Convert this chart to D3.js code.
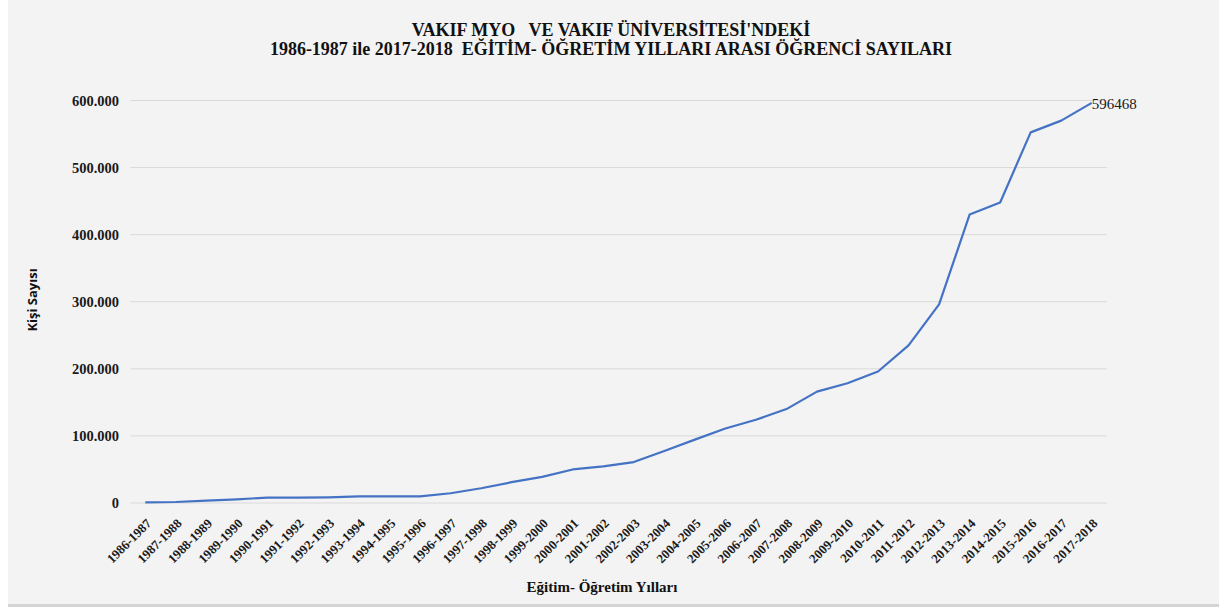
<!DOCTYPE html>
<html><head><meta charset="utf-8">
<script src="https://cdn.jsdelivr.net/npm/d3@7"></script>
<style>
html,body{margin:0;padding:0;background:#fff;}
svg{display:block;}
</style></head>
<body>
<script>
const categories = ["1986-1987","1987-1988","1988-1989","1989-1990","1990-1991","1991-1992","1992-1993","1993-1994","1994-1995","1995-1996","1996-1997","1997-1998","1998-1999","1999-2000","2000-2001","2001-2002","2002-2003","2003-2004","2004-2005","2005-2006","2006-2007","2007-2008","2008-2009","2009-2010","2010-2011","2011-2012","2012-2013","2013-2014","2014-2015","2015-2016","2016-2017","2017-2018"];
const students = [1000,1500,3500,5500,8000,8000,8500,9800,10000,10000,14500,22000,31000,39000,50000,54500,61000,77500,94500,111000,124000,140000,166000,178500,196000,235000,296000,430000,448000,552500,570000,596468];
const yTicks = [0,100000,200000,300000,400000,500000,600000];
const titleLines = ["VAKIF MYO   VE VAKIF ÜNİVERSİTESİ'NDEKİ","1986-1987 ile 2017-2018  EĞİTİM- ÖĞRETİM YILLARI ARASI ÖĞRENCİ SAYILARI"];
const yTitle = "Kişi Sayısı";
const xTitle = "Eğitim- Öğretim Yılları";
const lastLabel = "596468";

const W = 1219, H = 610;
const svg = d3.select("body").append("svg").attr("width", W).attr("height", H);
svg.append("rect").attr("width", W).attr("height", H).attr("fill", "#ffffff");
svg.append("rect").attr("x", 8).attr("y", 0).attr("width", W - 8).attr("height", 604).attr("fill", "#f3f3f3");
svg.append("rect").attr("x", 8).attr("y", 604).attr("width", W - 8).attr("height", 3).attr("fill", "#d4d4d4");

const m = {left: 130, right: 1107, top: 100.5, bottom: 503};
const x = d3.scalePoint().domain(categories).range([m.left, m.right]).padding(0.5);
const y = d3.scaleLinear().domain([0, 600000]).range([m.bottom, m.top]);

// grid
svg.append("g").selectAll("line").data(yTicks).join("line")
  .attr("x1", m.left).attr("x2", m.right)
  .attr("y1", d => y(d)).attr("y2", d => y(d))
  .attr("stroke", "#d9d9d9").attr("stroke-width", 1);

// y axis labels
const yAxis = d3.axisLeft(y).tickValues(yTicks).tickSize(0).tickPadding(0)
  .tickFormat(d => d === 0 ? "0" : d3.format(",")(d).replace(/,/g, "."));
const yg = svg.append("g").attr("transform", `translate(${m.left - 11},0)`).call(yAxis);
yg.select(".domain").remove();
yg.selectAll("text").attr("font-family", "Liberation Serif").attr("font-weight", "bold")
  .attr("font-size", 14.5).attr("fill", "#1a1a1a");

// x axis labels
const xAxis = d3.axisBottom(x).tickSize(0).tickPadding(0);
const xg = svg.append("g").attr("transform", `translate(0,${m.bottom})`).call(xAxis);
xg.select(".domain").remove();
xg.selectAll("text")
  .attr("font-family", "Liberation Serif").attr("font-weight", "bold").attr("font-size", 13)
  .attr("fill", "#1a1a1a")
  .attr("text-anchor", "end").attr("y", 0).attr("dy", "0.35em")
  .attr("transform", "translate(3,18) rotate(-45)");

// line
svg.append("path").datum(students)
  .attr("fill", "none").attr("stroke", "#4472c4").attr("stroke-width", 2.2)
  .attr("stroke-linejoin", "round")
  .attr("d", d3.line().x((d, i) => x(categories[i])).y(d => y(d)));

// end label
svg.append("text")
  .attr("x", x(categories[categories.length - 1]) + 0).attr("y", y(students[students.length - 1]) + 6)
  .attr("font-family", "Liberation Serif").attr("font-size", 15).attr("fill", "#1a1a1a")
  .text(lastLabel);

// title
svg.append("g").selectAll("text").data(titleLines).join("text")
  .attr("x", 611).attr("y", (d, i) => 36 + i * 19)
  .attr("text-anchor", "middle")
  .attr("font-family", "Liberation Serif").attr("font-weight", "bold").attr("font-size", 18)
  .attr("fill", "#111").attr("xml:space", "preserve").style("white-space", "pre")
  .text(d => d);

// axis titles
svg.append("text").attr("transform", "translate(37,300) rotate(-90)")
  .attr("text-anchor", "middle").attr("font-family", "Open Sans").attr("font-weight", "bold")
  .attr("font-size", 13).attr("fill", "#111").text(yTitle);
svg.append("text").attr("x", 602).attr("y", 592).attr("text-anchor", "middle")
  .attr("font-family", "Liberation Serif").attr("font-weight", "bold").attr("font-size", 15)
  .attr("fill", "#111").text(xTitle);
</script>
</body></html>
